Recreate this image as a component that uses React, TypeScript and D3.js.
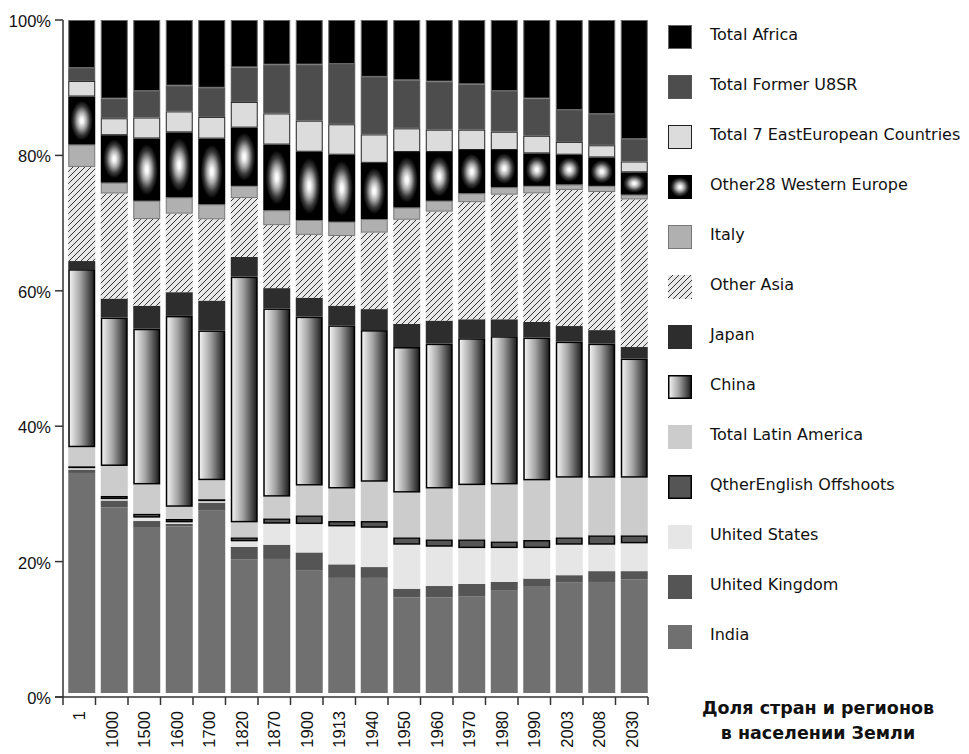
import React from "react";
import * as d3 from "d3";

const years = ["1", "1000", "1500", "1600", "1700", "1820", "1870", "1900", "1913", "1940", "1950", "1960", "1970", "1980", "1990", "2003", "2008", "2030"];

// series, bottom to top (share of world population, %)
const india = [32.5, 27.4, 24.4, 24.6, 26.9, 19.7, 19.8, 18.1, 17.0, 17.0, 14.1, 14.1, 14.3, 15.2, 15.8, 16.3, 16.4, 16.8];
const unitedKingdom = [0.5, 1.0, 1.0, 0.4, 1.2, 1.9, 2.1, 2.7, 2.0, 1.6, 1.3, 1.7, 1.8, 1.2, 1.1, 1.1, 1.6, 1.2];
const unitedStates = [0.2, 0.2, 0.5, 0.2, 0.2, 0.8, 3.1, 4.2, 5.6, 5.8, 6.5, 5.8, 5.3, 5.0, 4.5, 4.5, 3.9, 4.1];
const otherOffshoots = [0.3, 0.5, 0.6, 0.5, 0.3, 0.6, 0.8, 1.3, 0.8, 1.0, 1.1, 1.1, 1.3, 1.0, 1.2, 1.1, 1.4, 1.2];
const latinAmerica = [2.8, 4.4, 4.3, 1.8, 2.8, 2.2, 3.2, 4.4, 4.8, 5.8, 6.6, 7.5, 8.0, 8.4, 8.8, 8.8, 8.5, 8.5];
const china = [26.3, 21.9, 23.0, 28.2, 22.1, 36.3, 27.8, 25.0, 24.1, 22.4, 21.5, 21.4, 21.7, 21.9, 21.1, 20.1, 19.8, 17.6];
const japan = [1.2, 2.8, 3.4, 3.5, 4.4, 2.9, 3.0, 2.8, 2.9, 3.1, 3.4, 3.4, 2.8, 2.5, 2.3, 2.3, 2.0, 1.7];
const otherAsia = [13.9, 15.5, 12.8, 11.6, 12.0, 8.7, 9.3, 9.3, 10.3, 11.3, 15.4, 16.1, 17.3, 18.4, 19.0, 20.1, 20.4, 21.8];
const italy = [3.3, 1.6, 2.7, 2.4, 2.2, 1.8, 2.2, 2.2, 2.1, 2.0, 1.8, 1.6, 1.3, 1.1, 1.1, 0.8, 0.9, 0.7];
const westernEurope = [7.1, 7.0, 9.2, 9.6, 9.7, 8.6, 9.7, 10.1, 9.9, 8.3, 8.2, 7.2, 6.4, 5.5, 4.8, 4.4, 4.2, 3.3];
const eastEurope = [2.3, 2.5, 3.1, 3.1, 3.2, 3.8, 4.6, 4.6, 4.5, 4.2, 3.5, 3.3, 3.0, 2.7, 2.6, 1.9, 1.8, 1.6];
const formerUSSR = [1.9, 2.9, 3.9, 3.8, 4.3, 5.1, 7.2, 8.3, 8.9, 8.5, 7.1, 7.1, 6.7, 6.0, 5.5, 4.7, 4.6, 3.3];
const africa = [7.1, 11.6, 10.5, 9.7, 10.0, 7.0, 6.6, 6.6, 6.5, 8.4, 8.9, 9.1, 9.5, 10.5, 11.6, 13.3, 13.9, 17.6];

const seriesNames = [
  "India",
  "Uhited Kingdom",
  "Uhited States",
  "QtherEnglish Offshoots",
  "Total Latin America",
  "China",
  "Japan",
  "Other Asia",
  "Italy",
  "Other28 Western Europe",
  "Total 7 EastEuropean Countries",
  "Total Former U8SR",
  "Total Africa",
];
const seriesValues = [india, unitedKingdom, unitedStates, otherOffshoots, latinAmerica, china, japan, otherAsia, italy, westernEurope, eastEurope, formerUSSR, africa];

const titleLines = ["Доля стран и регионов", "в населении Земли"];

const styles: Record<string, { fill: string; stroke: string; sw: number }> = {
  "India": { fill: "#707070", stroke: "none", sw: 0 },
  "Uhited Kingdom": { fill: "#555555", stroke: "none", sw: 0 },
  "Uhited States": { fill: "#e6e6e6", stroke: "none", sw: 0 },
  "QtherEnglish Offshoots": { fill: "#555555", stroke: "#000", sw: 1.5 },
  "Total Latin America": { fill: "#cccccc", stroke: "none", sw: 0 },
  "China": { fill: "url(#chinaGrad)", stroke: "#000", sw: 1.5 },
  "Japan": { fill: "#2d2d2d", stroke: "none", sw: 0 },
  "Other Asia": { fill: "url(#hatch)", stroke: "none", sw: 0 },
  "Italy": { fill: "#b0b0b0", stroke: "#777", sw: 1 },
  "Other28 Western Europe": { fill: "url(#weGrad)", stroke: "none", sw: 0 },
  "Total 7 EastEuropean Countries": { fill: "#dcdcdc", stroke: "#222", sw: 1 },
  "Total Former U8SR": { fill: "#4d4d4d", stroke: "#555", sw: 1 },
  "Total Africa": { fill: "#000000", stroke: "#666", sw: 1 },
};

export default function App() {
  const W = 969;
  const H = 754;
  const axisY = 697;
  const topY = 20;

  const table = years.map((yr, i) => {
    const row: any = { year: yr };
    seriesNames.forEach((n, k) => (row[n] = seriesValues[k][i]));
    return row;
  });
  const stacked = d3.stack<any>().keys(seriesNames).offset(d3.stackOffsetExpand)(table);

  const x = d3.scaleBand<string>().domain(years).range([65.5, 650.5]).paddingInner(0.17).paddingOuter(0.085);
  const xAxis = d3.scaleBand<string>().domain(years).range([63, 648]);
  const y = d3.scaleLinear().domain([0, 1]).range([axisY, topY]);
  const yBar = d3.scaleLinear().domain([0, 1]).range([axisY - 4, topY]);
  const yTicks = y.ticks(5);
  const fmt = d3.format(".0%");

  const axisFont = "'Liberation Sans', Arial, sans-serif";
  const legendFont = "'DejaVu Sans', sans-serif";

  return (
    <svg width={W} height={H} style={{ position: "absolute", left: 0, top: 0, background: "#fff" }}>
      <defs>
        <linearGradient id="chinaGrad" x1="0" y1="0" x2="1" y2="0">
          <stop offset="0" stopColor="#f6f6f6" />
          <stop offset="0.45" stopColor="#a2a2a2" />
          <stop offset="1" stopColor="#1a1a1a" />
        </linearGradient>
        <radialGradient id="weGrad" cx="0.5" cy="0.5" r="0.5">
          <stop offset="0" stopColor="#ffffff" />
          <stop offset="0.12" stopColor="#f4f4f4" />
          <stop offset="0.35" stopColor="#a8a8a8" />
          <stop offset="0.6" stopColor="#3a3a3a" />
          <stop offset="0.82" stopColor="#000000" />
          <stop offset="1" stopColor="#000000" />
        </radialGradient>
        <pattern id="hatch" patternUnits="userSpaceOnUse" width="6" height="6">
          <rect width="6" height="6" fill="#e8e8e8" />
          <path d="M0,6 L6,0 M-1.5,1.5 L1.5,-1.5 M4.5,7.5 L7.5,4.5" stroke="#333" strokeWidth="1" />
        </pattern>
      </defs>

      {/* bars */}
      {stacked.map((s) => {
        const st = styles[s.key];
        return (
          <g key={s.key}>
            {s.map((d, i) => {
              const top = yBar(d[1]);
              const bot = yBar(d[0]);
              const inset = st.sw > 0 ? st.sw / 2 : 0;
              return (
                <rect
                  key={i}
                  x={(x(d.data.year) as number) + inset}
                  y={top + inset}
                  width={x.bandwidth() - 2 * inset}
                  height={Math.max(0, bot - top - 2 * inset)}
                  fill={st.fill}
                  stroke={st.stroke}
                  strokeWidth={st.sw}
                />
              );
            })}
          </g>
        );
      })}

      {/* y axis */}
      <line x1={63} x2={63} y1={y(1)} y2={y(0)} stroke="#333" strokeWidth={1.5} />
      {yTicks.map((t) => (
        <g key={t}>
          <line x1={55} x2={63} y1={y(t)} y2={y(t)} stroke="#333" strokeWidth={1.5} />
          <text x={51} y={y(t)} dy="0.42em" textAnchor="end" fontFamily={axisFont} fontSize={16.5} fill="#111">
            {fmt(t)}
          </text>
        </g>
      ))}

      {/* x axis */}
      <line x1={55} x2={xAxis.range()[1]} y1={axisY} y2={axisY} stroke="#333" strokeWidth={1.5} />
      {years.map((yr) => (
        <line key={"t" + yr} x1={xAxis(yr) as number} x2={xAxis(yr) as number} y1={axisY} y2={axisY + 8} stroke="#333" strokeWidth={1.5} />
      ))}
      <line x1={xAxis.range()[1]} x2={xAxis.range()[1]} y1={axisY} y2={axisY + 8} stroke="#333" strokeWidth={1.5} />
      {years.map((yr) => {
        const cx = (xAxis(yr) as number) + xAxis.bandwidth() / 2;
        return (
          <text
            key={"l" + yr}
            transform={`translate(${cx},${axisY + 14}) rotate(-90)`}
            dy="0.36em"
            textAnchor="end"
            fontFamily={axisFont}
            fontSize={16.5}
            fill="#111"
          >
            {yr}
          </text>
        );
      })}

      {/* legend */}
      {seriesNames
        .slice()
        .reverse()
        .map((n, i) => {
          const st = styles[n];
          const ty = 25 + i * 50;
          const inset = st.sw > 0 ? st.sw / 2 : 0;
          return (
            <g key={"lg" + n}>
              <rect
                x={668 + inset}
                y={ty + inset}
                width={24 - 2 * inset}
                height={24 - 2 * inset}
                fill={st.fill}
                stroke={st.stroke}
                strokeWidth={st.sw}
              />
              <text x={710} y={ty + 14.5} fontFamily={legendFont} fontSize={16} fill="#111">
                {n}
              </text>
            </g>
          );
        })}

      {/* title */}
      {titleLines.map((t, i) => (
        <text
          key={"tt" + i}
          x={818}
          y={714 + i * 25}
          textAnchor="middle"
          fontFamily={legendFont}
          fontWeight="bold"
          fontSize={17.5}
          fill="#111"
        >
          {t}
        </text>
      ))}
    </svg>
  );
}
